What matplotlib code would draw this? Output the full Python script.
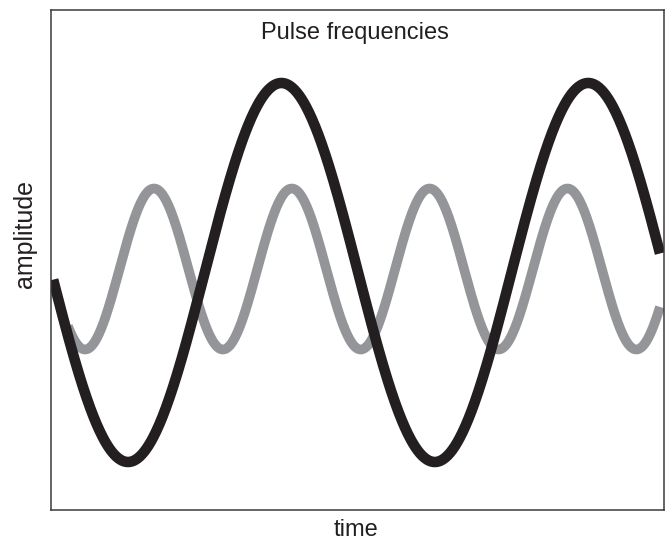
import numpy as np
import matplotlib.pyplot as plt

# Two waves (time runs 0..10 across the frame, amplitude -1..1)
WAVE_NAMES = ["slow pulse", "fast pulse"]
WAVE_PERIODS = [5.0, 2.246]
WAVE_PEAK_TIMES = [3.76, 1.683]
WAVE_AMPLITUDES = [0.758, 0.322]
WAVE_OFFSETS = [-0.05, -0.036]
WAVE_STARTS = [0.04, 0.28]
WAVE_ENDS = [9.93, 9.93]
WAVE_COLORS = ["#231f20", "#939598"]
WAVE_WIDTHS = [7.6, 7.0]

TITLE = "Pulse frequencies"
X_LABEL = "time"
Y_LABEL = "amplitude"


def main():
    fig = plt.figure(figsize=(6.69, 5.42), dpi=100, facecolor="white")
    ax = fig.add_axes([50.7 / 669, 32 / 542, 613.6 / 669, 500 / 542])
    plt.rcParams["font.family"] = ["Liberation Sans", "DejaVu Sans"]

    # gray (fast) wave goes underneath the black one
    for i in [1, 0]:
        t = np.linspace(WAVE_STARTS[i], WAVE_ENDS[i], 800)
        y = WAVE_OFFSETS[i] + WAVE_AMPLITUDES[i] * np.cos(
            2 * np.pi * (t - WAVE_PEAK_TIMES[i]) / WAVE_PERIODS[i]
        )
        ax.plot(
            t, y,
            color=WAVE_COLORS[i],
            lw=WAVE_WIDTHS[i],
            solid_capstyle="butt",
            solid_joinstyle="round",
            label=WAVE_NAMES[i],
        )

    ax.set_xlim(0, 10)
    ax.set_ylim(-1, 1)
    ax.set_xticks([])
    ax.set_yticks([])
    for s in ax.spines.values():
        s.set_color("#3a3a3a")
        s.set_linewidth(1.1)

    ax.text(0.4958, 0.9414, TITLE, transform=ax.transAxes, ha="center",
            va="baseline", fontsize=17, color="#231f20")
    fig.text(356 / 669, 6 / 542, X_LABEL, ha="center", va="baseline",
             fontsize=17, color="#231f20")
    fig.text(25 / 669, 1 - 234 / 542, Y_LABEL, ha="center", va="center",
             rotation=90, fontsize=18, color="#231f20")

    fig.savefig("out.png", dpi=100, facecolor="white")


if __name__ == "__main__":
    main()
